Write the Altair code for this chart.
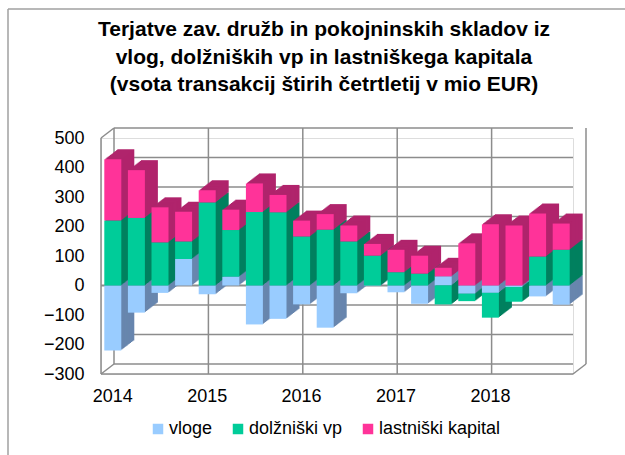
import altair as alt
import pandas as pd

quarters = ["2014Q1", "2014Q2", "2014Q3", "2014Q4",
            "2015Q1", "2015Q2", "2015Q3", "2015Q4",
            "2016Q1", "2016Q2", "2016Q3", "2016Q4",
            "2017Q1", "2017Q2", "2017Q3", "2017Q4",
            "2018Q1", "2018Q2", "2018Q3", "2018Q4"]
vloge = [-220, -92, -25, 90, -30, 30, -132, -113, -64, -143,
         -26, -2, -23, -62, 31, -28, -25, -5, -37, -65]
dolzniski = [220, 229, 146, 59, 281, 158, 249, 248, 166, 189,
             149, 101, 45, 40, -64, -25, -84, -50, 98, 121]
lastniski = [208, 162, 119, 101, 42, 69, 97, 59, 54, 53,
             54, 40, 76, 61, 29, 143, 208, 203, 146, 89]
series_names = ["vloge", "dolžniški vp", "lastniški kapital"]
front_colors = ["#99CCFF", "#00CC99", "#FF3399"]
side_colors = ["#6886AE", "#00805F", "#B0246C"]
y_ticks = [-300, -200, -100, 0, 100, 200, 300, 400, 500]
year_starts = ["2015Q1", "2016Q1", "2017Q1", "2018Q1"]
title_lines = ["Terjatve zav. družb in pokojninskih skladov iz",
               "vlog, dolžniških vp in lastniškega kapitala",
               "(vsota transakcij štirih četrtletij v mio EUR)"]

rows = []
for i, q in enumerate(quarters):
    for s, vals in enumerate([vloge, dolzniski, lastniski]):
        rows.append({"q": q, "serija": series_names[s], "idx": s,
                     "val": vals[i], "dark": side_colors[s]})
df = pd.DataFrame(rows)

W, H = 472, 236
DX, DY = 13, -10
GRID = "#8C8C8C"
FONT = "Liberation Sans"

xscale = alt.Scale(domain=quarters, paddingInner=0.28, paddingOuter=0.14)
yscale = alt.Scale(domain=[-300, 500], nice=False, zero=False)

x_axis = alt.Axis(labelExpr="substring(datum.value, 4, 6) == 'Q1' ? substring(datum.value, 0, 4) : ''",
                  labelAngle=0, ticks=False, domain=False, grid=False, labelFontSize=18,
                  labelPadding=13, labelColor="black", labelFont=FONT, title=None)
y_axis = alt.Axis(values=y_ticks, grid=False, ticks=False, domain=False,
                  labelFontSize=18, labelPadding=17, labelColor="black",
                  labelFont=FONT, title=None)

# back wall gridlines
hgrid = alt.Chart(pd.DataFrame({"v": y_ticks})).mark_rule(
    color=GRID, strokeWidth=1.5, xOffset=DX, yOffset=DY
).encode(y=alt.Y("v:Q", scale=yscale, axis=y_axis), x=alt.value(0), x2=alt.value(W))

vgrid = alt.Chart(pd.DataFrame({"q": year_starts})).mark_rule(
    color=GRID, strokeWidth=1.5, xOffset=DX - 3.3, yOffset=DY
).encode(x=alt.X("q:N", scale=xscale, axis=x_axis, bandPosition=0),
         y=alt.value(0), y2=alt.value(H))

frame_rules = []
for enc in [
    dict(x=alt.value(DX), x2=alt.value(DX), y=alt.value(DY), y2=alt.value(H + DY)),
    dict(x=alt.value(W + DX), x2=alt.value(W + DX), y=alt.value(DY), y2=alt.value(H + DY)),
    dict(x=alt.value(0), x2=alt.value(0), y=alt.value(0), y2=alt.value(H)),
    dict(x=alt.value(0), x2=alt.value(W), y=alt.value(H), y2=alt.value(H)),
    dict(x=alt.value(0), x2=alt.value(DX), y=alt.value(0), y2=alt.value(DY)),
    dict(x=alt.value(0), x2=alt.value(DX), y=alt.value(H), y2=alt.value(H + DY)),
    dict(x=alt.value(W), x2=alt.value(W + DX), y=alt.value(H), y2=alt.value(H + DY)),
]:
    frame_rules.append(alt.Chart(pd.DataFrame({"a": [0]})).mark_rule(
        color=GRID, strokeWidth=1.5).encode(**enc))

zero_front = alt.Chart(pd.DataFrame({"v": [0]})).mark_rule(
    color=GRID, strokeWidth=2
).encode(y=alt.Y("v:Q", scale=yscale, axis=y_axis), x=alt.value(0), x2=alt.value(W))

# outer chart border (decorative)
border = [
    alt.Chart(pd.DataFrame({"a": [0]})).mark_rule(color="#A0A0A0", strokeWidth=1.5).encode(
        x=alt.value(-93), x2=alt.value(530), y=alt.value(-129)),
    alt.Chart(pd.DataFrame({"a": [0]})).mark_rule(color="#A0A0A0", strokeWidth=1.5).encode(
        x=alt.value(-93), y=alt.value(-129), y2=alt.value(320)),
]

title = alt.Chart(pd.DataFrame({"a": [0]})).mark_text(
    text=title_lines, fontSize=21, fontWeight="bold", font=FONT, color="black",
    lineHeight=27.5, align="center", baseline="top"
).encode(x=alt.value(223), y=alt.value(-119))

N = 12
depth_layers = []
for k in range(N, 0, -1):
    depth_layers.append(
        alt.Chart(df).mark_bar(xOffset=DX * k / N, yOffset=DY * k / N).encode(
            x=alt.X("q:N", scale=xscale, axis=x_axis),
            y=alt.Y("sum(val):Q", scale=yscale, stack="zero", axis=y_axis),
            color=alt.Color("dark:N", scale=None),
            order=alt.Order("idx:Q", sort="ascending"),
        )
    )

front = alt.Chart(df).mark_bar().encode(
    x=alt.X("q:N", scale=xscale, axis=x_axis),
    y=alt.Y("sum(val):Q", scale=yscale, stack="zero", axis=y_axis),
    color=alt.Color("serija:N", scale=alt.Scale(domain=series_names, range=front_colors),
                    legend=alt.Legend(title=None, orient="none", legendX=48, legendY=282,
                                      direction="horizontal", symbolType="square",
                                      symbolSize=110, symbolStrokeWidth=0, labelFontSize=18,
                                      labelFont=FONT, labelColor="black",
                                      columnPadding=16, labelOffset=2)),
    order=alt.Order("idx:Q", sort="ascending"),
)

chart = alt.layer(
    hgrid, vgrid, *frame_rules, zero_front, *border, title, *depth_layers, front
).properties(
    width=W, height=H,
    padding={"left": 101, "top": 138, "right": 52, "bottom": 81},
    autosize=alt.AutoSizeParams(type="none"),
).configure_view(stroke=None).configure(background="white")

chart.save("out.html", embed_options={"renderer": "svg", "actions": False})
